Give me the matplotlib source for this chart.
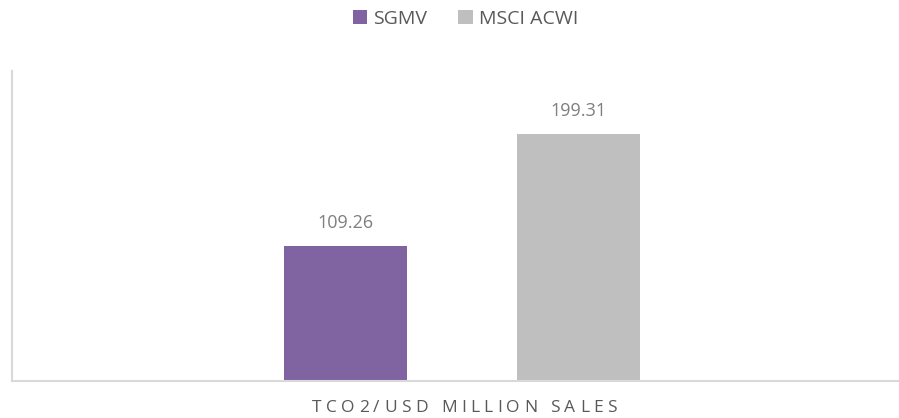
import matplotlib
matplotlib.use('Agg')
import matplotlib.pyplot as plt
from matplotlib.font_manager import FontProperties

series = ["SGMV", "MSCI ACWI"]
values = [109.26, 199.31]
colors = ["#8064A2", "#BFBFBF"]
category = "TCO2/USD MILLION SALES"

plt.rcParams['font.family'] = ['Open Sans', 'DejaVu Sans']

W, H = 899, 418
fig = plt.figure(figsize=(W / 100, H / 100), dpi=100)
# plot area runs a little past the right edge of the picture
ax = fig.add_axes([12 / W, 37 / H, 900 / W, 310 / H])

offsets = [-0.1294, 0.1294]
for name, val, col, off in zip(series, values, colors, offsets):
    bars = ax.bar(off, val, width=0.1367, color=col, label=name)
    ax.bar_label(bars, labels=[f"{val:.2f}"], padding=10, fontsize=13, color="#7F7F7F")

ax.set_xlim(-0.5, 0.5)
ax.set_ylim(0, 250)
ax.set_xticks([])
ax.set_yticks([])
for s in ["top", "right"]:
    ax.spines[s].set_visible(False)
for s in ["left", "bottom"]:
    ax.spines[s].set_color("#D9D9D9")
    ax.spines[s].set_linewidth(1.5)

# category label with wide letter spacing (advance widths measured between two H's)
fp = FontProperties(family=['Open Sans', 'DejaVu Sans'], size=12.5)
renderer = fig.canvas.get_renderer()
def tw(s):
    return renderer.get_text_width_height_descent(s, fp, ismath=False)[0]
base = tw("HH")
adv = [tw("H" + ch + "H") - base for ch in category]
total = 305
gap = (total - sum(adv)) / (len(category) - 1)
x = 464.5 - total / 2
for ch, a in zip(category, adv):
    fig.text((x + a / 2) / W, 1 - 408 / H, ch, ha="center", va="center", fontproperties=fp, color="#595959")
    x += a + gap

fig.legend(loc="center", bbox_to_anchor=(465.5 / W, 1 - 19 / H), ncol=2, frameon=False,
           fontsize=14, handlelength=0.75, handleheight=0.75, handletextpad=0.3,
           columnspacing=1.6, labelcolor="#595959")

fig.savefig("out.png", dpi=100)
